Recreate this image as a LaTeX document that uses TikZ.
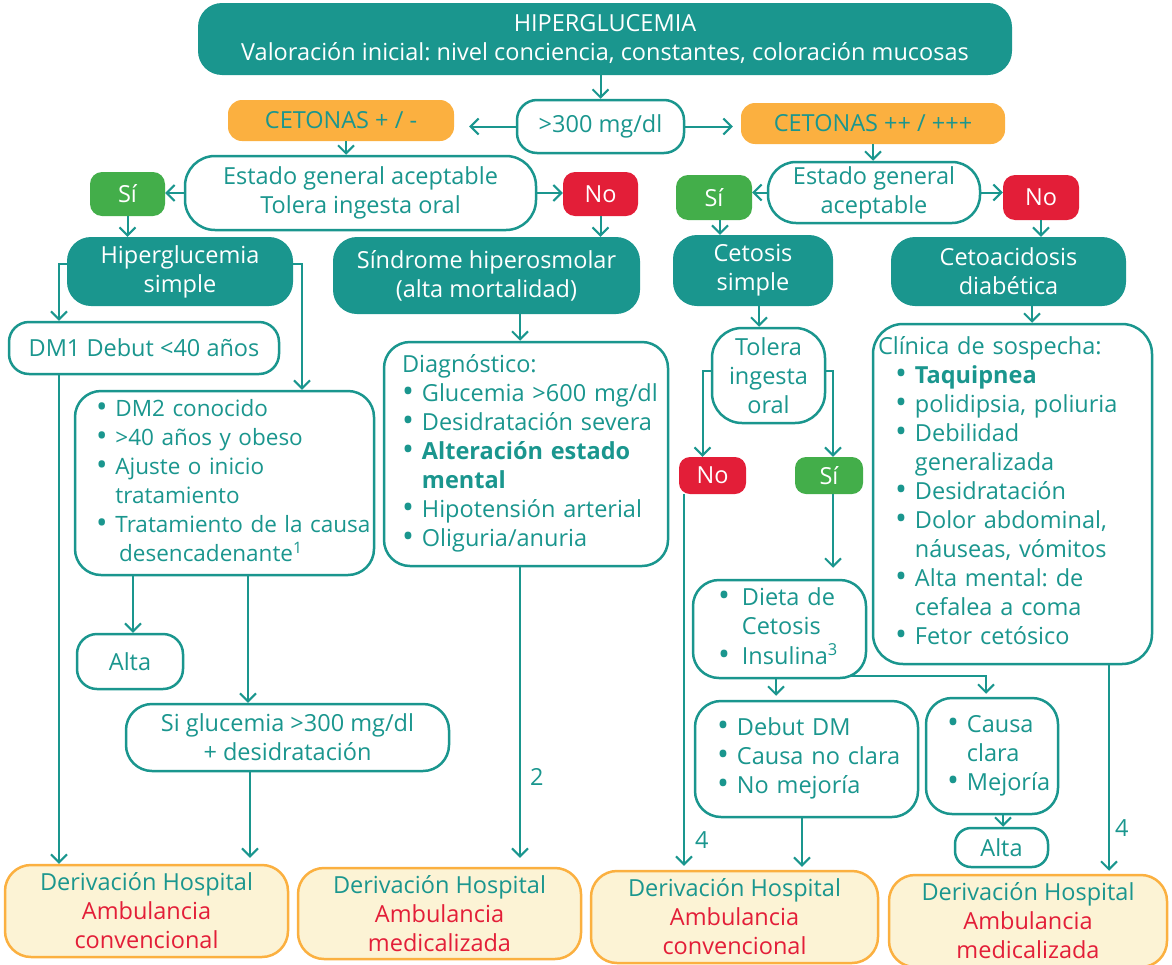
\documentclass[tikz,border=0pt]{standalone}
\usepackage{fontspec}
\setmainfont{Open Sans}
\usetikzlibrary{arrows.meta, positioning}
\frenchspacing

\definecolor{tealc}{HTML}{1A968E}
\definecolor{orangec}{HTML}{FBB040}
\definecolor{greenc}{HTML}{43AE4A}
\definecolor{redc}{HTML}{E31E38}
\definecolor{creamc}{HTML}{FCF3D5}

\newcommand{\bl}{\raisebox{-1pt}{\scalebox{1.35}{\textbullet}}}
\newenvironment{items}[1][8pt]{\begin{tabular}{@{}l@{\hspace{#1}}l@{}}}{\end{tabular}}

\begin{document}
\begin{tikzpicture}[
    x=1pt, y=-1pt,
    every node/.style={font=\fontsize{23.5}{29}\selectfont, inner sep=0pt, align=center},
    wh/.style 2 args={minimum width=#1pt, minimum height=#2pt},
    bullets/.style={text width=#1, align=left},
    dark/.style={rectangle, fill=tealc, text=white, rounded corners=24pt},
    box/.style={rectangle, draw=tealc, line width=2.5pt, fill=white, text=tealc, rounded corners=26pt},
    ketone/.style={rectangle, fill=orangec, text=tealc, rounded corners=14pt},
    sibox/.style={rectangle, fill=greenc, text=white, rounded corners=12pt},
    nobox/.style={rectangle, fill=redc, text=white, rounded corners=12pt},
    referral/.style={rectangle, draw=orangec, line width=2.5pt, fill=creamc, text=tealc, rounded corners=26pt},
    arrow/.style={draw=tealc, line width=2pt, -{Straight Barb[length=8pt,width=16pt]}},
    num/.style={text=tealc}
]
\useasboundingbox (0,0) rectangle (1172,964);

\node (top) [dark, wh={814}{72}] at (605,39) {HIPERGLUCEMIA\\Valoración inicial: nivel conciencia, constantes, coloración mucosas};
\node (mg) [box, rounded corners=20pt, wh={167}{53}] at (600.5,126.5) {>300 mg/dl};
\node (ketlow) [ketone, wh={226}{41}] at (341,120.5) {CETONAS + / -};
\node (kethigh) [ketone, wh={264}{41}] at (873,123.5) {CETONAS ++ / +++};

% rama cetonas + / -
\node (stateL) [box, rounded corners=30pt, wh={351}{74}] at (360.5,193) {Estado general aceptable\\Tolera ingesta oral};
\node (siL) [sibox, wh={75}{44}] at (127.5,194) {Sí};
\node (noL) [nobox, wh={75}{44}] at (600.5,194) {No};
\node (simple) [dark, wh={226}{69}] at (180,271.5) {Hiperglucemia\\simple};
\node (hyperosm) [dark, wh={307}{77}] at (486.5,275.5) {Síndrome hiperosmolar\\(alta mortalidad)};
\node (dmone) [box, rounded corners=20pt, wh={270}{52}] at (144,348) {DM1 Debut <40 años};
\node (dmtwo) [box, bullets=257pt, wh={299}{184}, font=\fontsize{22.5}{29}\selectfont] at (224.5,483) {\begin{items}
    \bl & DM2 conocido\\
    \bl & >40 años y obeso\\
    \bl & Ajuste o inicio\\
        & tratamiento\\
    \bl & Tratamiento de la causa\\
        & \,desencadenante\textsuperscript{1}
  \end{items}};
\node (altaL) [box, rounded corners=20pt, wh={106}{55}] at (130,661.5) {Alta};
\node (glyc) [box, wh={323}{67}] at (287.5,737.5) {Si glucemia >300 mg/dl\\+ desidratación};
\node (diag) [box, bullets=248pt, wh={284}{224}] at (526,454) {\begin{tabular}{@{}l@{\hspace{8pt}}l@{}}
    \multicolumn{2}{@{}l@{}}{Diagnóstico:}\\
    \bl & Glucemia >600 mg/dl\\
    \bl & Desidratación severa\\
    \bl & \textbf{Alteración estado}\\
        & \textbf{mental}\\
    \bl & Hipotensión arterial\\
    \bl & Oliguria/anuria
  \end{tabular}};
\node (derivA) [referral, wh={283}{92}] at (146.5,911) {Derivación Hospital\\{\color{redc}Ambulancia}\\{\color{redc}convencional}};
\node (derivB) [referral, wh={283}{91}] at (439.5,913.5) {Derivación Hospital\\{\color{redc}Ambulancia}\\{\color{redc}medicalizada}};

% rama cetonas ++ / +++
\node (stateR) [box, rounded corners=28pt, wh={212}{61}] at (874,192.5) {Estado general\\aceptable};
\node (siR) [sibox, wh={76}{45}] at (714,197.5) {Sí};
\node (noR) [nobox, wh={76}{45}] at (1041,197.5) {No};
\node (ketosis) [dark, wh={160}{71}] at (753,270.5) {Cetosis\\simple};
\node (ketoacid) [dark, wh={235}{69}] at (1008.5,271.5) {Cetoacidosis\\diabética};
\node (tolera) [box, rounded corners=30pt, wh={113}{95}] at (768.5,375.5) {Tolera\\ingesta\\oral};
\node (noT) [nobox, rounded corners=11pt, wh={67}{37}] at (712.5,475.5) {No};
\node (siT) [sibox, rounded corners=11pt, wh={68}{37}] at (829,475.5) {Sí};
\node (diet) [box, bullets=123pt, wh={173}{98}] at (779.5,629) {\begin{items}[12pt]
    \bl & Dieta de\\
        & Cetosis\\
    \bl & Insulina\textsuperscript{3}
  \end{items}};
\node (clinic) [box, rounded corners=30pt, bullets=269pt, wh={279}{340}] at (1012.5,494) {\begin{tabular}{@{\hspace{17pt}}l@{\hspace{8pt}}l@{}}
    \multicolumn{2}{@{}l@{}}{Clínica de sospecha:}\\
    \bl & \textbf{Taquipnea}\\
    \bl & polidipsia, poliuria\\
    \bl & Debilidad\\
        & generalizada\\
    \bl & Desidratación\\
    \bl & Dolor abdominal,\\
        & náuseas, vómitos\\
    \bl & Alta mental: de\\
        & cefalea a coma\\
    \bl & Fetor cetósico
  \end{tabular}};
\node (debut) [box, bullets=179pt, wh={223}{116}] at (806.5,759) {\begin{items}
    \bl & Debut DM\\
    \bl & Causa no clara\\
    \bl & No mejoría
  \end{items}};
\node (cause) [box, bullets=90pt, wh={132}{116}] at (992,756) {\begin{items}
    \bl & Causa\\
        & clara\\
    \bl & Mejoría
  \end{items}};
\node (altaR) [box, rounded corners=16pt, wh={93}{39}] at (1001.5,847.5) {Alta};
\node (derivC) [referral, wh={287}{92}] at (734.5,917) {Derivación Hospital\\{\color{redc}Ambulancia}\\{\color{redc}convencional}};
\node (derivD) [referral, wh={278}{92}] at (1028,921) {Derivación Hospital\\{\color{redc}Ambulancia}\\{\color{redc}medicalizada}};

% conexiones
\draw [arrow] (top.south -| mg.north) -- (mg.north);
\draw [arrow, shorten >=15pt] (mg.west) -- (mg.west -| ketlow.east);
\draw [arrow, shorten >=8pt] (mg.east) -- (mg.east -| kethigh.west);
\draw [arrow] ([xshift=5pt]ketlow.south) -- ([xshift=5pt]ketlow.south |- stateL.north);
\draw [arrow] (kethigh.south) -- (kethigh.south |- stateR.north);
\draw [arrow] (stateL.west) -- (stateL.west -| siL.east);
\draw [arrow] (stateL.east) -- (stateL.east -| noL.west);
\draw [arrow] (stateR.west) -- (stateR.west -| siR.east);
\draw [arrow] (stateR.east) -- (stateR.east -| noR.west);
\draw [arrow] (siL.south) -- (siL.south |- simple.north);
\draw [arrow] (noL.south) -- (noL.south |- hyperosm.north);
\draw [arrow] ([xshift=6pt]siR.south) -- ([xshift=6pt]siR.south |- ketosis.north);
\draw [arrow] (noR.south) -- (noR.south |- ketoacid.north);

\draw [arrow] ([yshift=8pt]simple.west) -| ([xshift=-85pt]dmone.north);
\draw [arrow] ([yshift=8pt]simple.east) -| ([xshift=77.5pt]dmtwo.north);
\draw [arrow] ([xshift=-85pt]dmone.south) -- ([xshift=-85pt]dmone.south |- derivA.north);
\draw [arrow] ([xshift=3pt]altaL.north |- dmtwo.south) -- ([xshift=3pt]altaL.north);
\draw [arrow] ([xshift=23.5pt]dmtwo.south) -- ([xshift=23.5pt]dmtwo.south |- glyc.north);
\draw [arrow, shorten >=6pt] ([xshift=-37.5pt]glyc.south) -- ([xshift=-37.5pt]glyc.south |- derivA.north);
\draw [arrow] ([xshift=-6pt]diag.north |- hyperosm.south) -- ([xshift=-6pt]diag.north);
\draw [arrow, shorten >=9pt] ([xshift=-6pt]diag.south) -- node (two) [num, pos=0.7, right=9pt] {2} ([xshift=-6pt]diag.south |- derivB.north);

\draw [arrow] ([xshift=6pt]ketosis.south) -- ([xshift=6pt]ketosis.south |- tolera.north);
\draw [arrow] ([yshift=5pt]tolera.west) -| ([xshift=-10pt]noT.north);
\draw [arrow] ([yshift=5pt]tolera.east) -| ([xshift=4pt]siT.north);
\draw [arrow, shorten >=11pt] ([xshift=4pt]siT.south) -- ([xshift=4pt]siT.south |- diet.north);
\draw [arrow, shorten >=4pt] ([xshift=-28.5pt]noT.south) -- node (fourC) [num, pos=0.92, right=10pt] {4} ([xshift=-28.5pt]noT.south |- derivC.north);
\draw [arrow] ([xshift=23.5pt]ketoacid.south) -- ([xshift=23.5pt]ketoacid.south |- clinic.north);
\draw [arrow, shorten >=3pt] ([xshift=96.5pt]clinic.south) -- node (fourD) [num, pos=0.78, right=5pt] {4} ([xshift=96.5pt]clinic.south |- derivD.north);
\draw [arrow, shorten >=4pt] ([xshift=-3.5pt]diet.south) -- ([xshift=-3.5pt]diet.south |- debut.north);
\draw [arrow, shorten >=3pt] ([xshift=-18pt,yshift=3pt]diet.south east) -| ([xshift=-6pt]cause.north);
\draw [arrow] ([xshift=11pt]cause.south) -- ([xshift=11pt]cause.south |- altaR.north);
\draw [arrow, shorten >=3pt] ([xshift=-4.5pt]debut.south) -- ([xshift=-4.5pt]debut.south |- derivC.north);

\end{tikzpicture}
\end{document}
